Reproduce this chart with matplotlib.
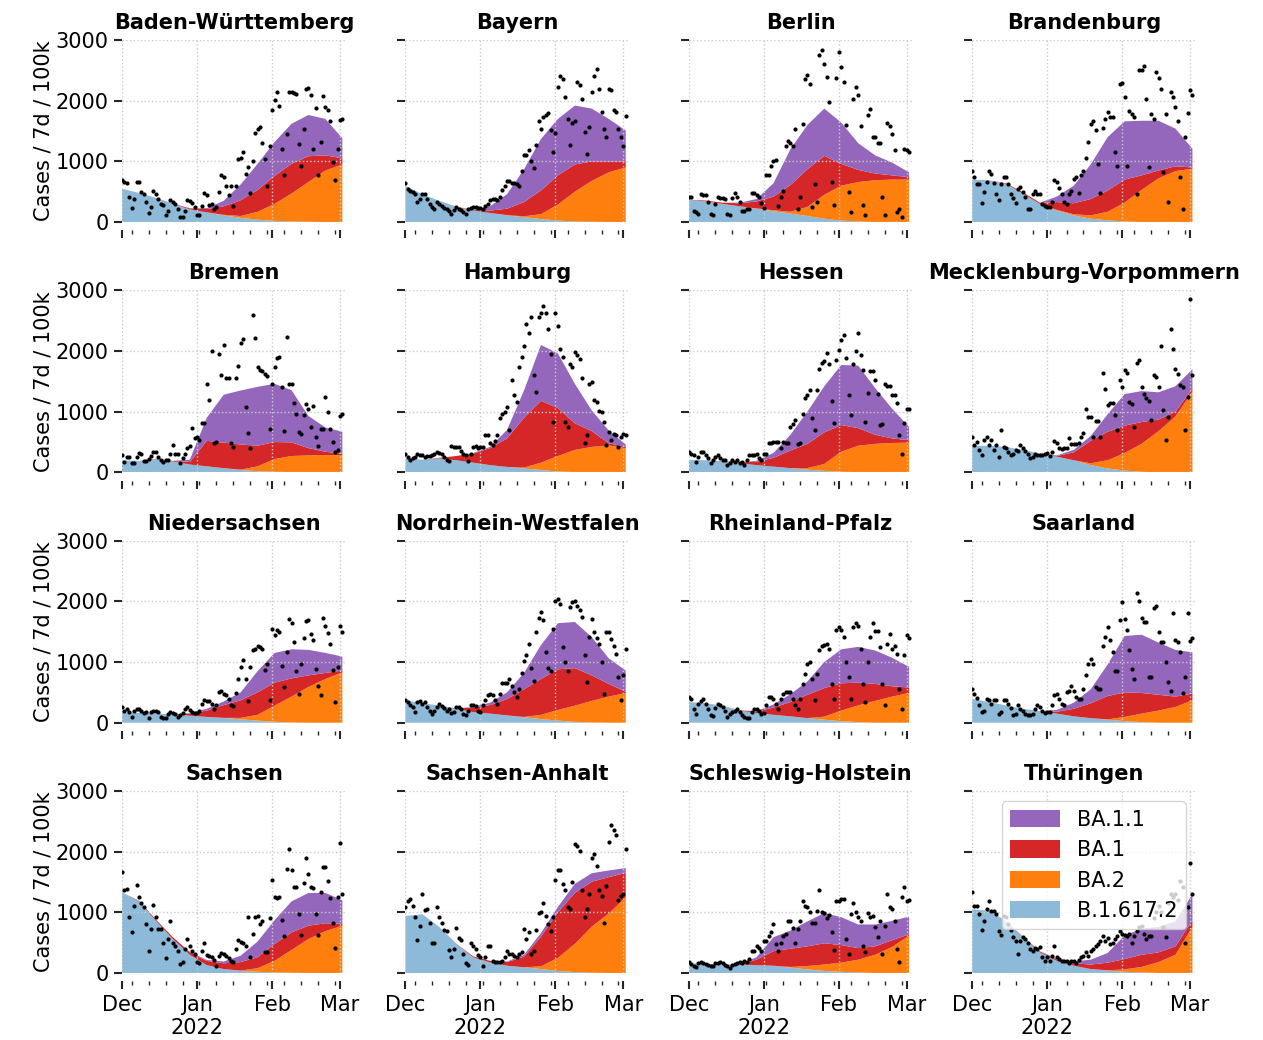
import pandas as pd
import matplotlib
matplotlib.use('Agg')
import matplotlib.pyplot as plt
import matplotlib.dates as mdates

# states in panel order
states = ['Baden-Württemberg', 'Bayern', 'Berlin', 'Brandenburg',
          'Bremen', 'Hamburg', 'Hessen', 'Mecklenburg-Vorpommern',
          'Niedersachsen', 'Nordrhein-Westfalen', 'Rheinland-Pfalz', 'Saarland',
          'Sachsen', 'Sachsen-Anhalt', 'Schleswig-Holstein', 'Thüringen']

# weekly model knots (Dec 1 .. Mar 2) and daily reported cases (Dec 1 .. Mar 2)
weeks = pd.date_range('2021-12-01', periods=14, freq='7D')
days = pd.date_range('2021-12-01', periods=92, freq='D')

variants = ['B.1.617.2', 'BA.2', 'BA.1', 'BA.1.1']
colors = ['#8ebad9', '#ff7f0e', '#d62728', '#9467bd']

month_ticks = pd.to_datetime(['2021-12-01', '2022-01-01', '2022-02-01', '2022-03-01'])
month_labels = ['Dec', 'Jan\n2022', 'Feb', 'Mar']

# cases / 7d / 100k per variant (stacked areas)
delta = {
    'Baden-Württemberg': [550, 480, 400, 300, 210, 160, 110, 70, 40, 20, 10, 5, 0, 0],
    'Bayern': [600, 460, 350, 250, 190, 150, 110, 80, 50, 25, 10, 5, 0, 0],
    'Berlin': [370, 340, 300, 260, 220, 180, 140, 100, 55, 25, 10, 0, 0, 0],
    'Brandenburg': [700, 690, 630, 470, 300, 190, 110, 55, 30, 10, 0, 0, 0, 0],
    'Bremen': [200, 190, 220, 180, 130, 100, 70, 40, 20, 10, 5, 0, 0, 0],
    'Hamburg': [230, 210, 230, 200, 160, 120, 90, 65, 40, 15, 5, 0, 0, 0],
    'Hessen': [210, 200, 180, 150, 120, 95, 70, 45, 25, 10, 5, 0, 0, 0],
    'Mecklenburg-Vorpommern': [440, 440, 420, 370, 310, 260, 200, 120, 65, 30, 10, 0, 0, 0],
    'Niedersachsen': [170, 160, 150, 140, 115, 95, 80, 55, 35, 15, 5, 0, 0, 0],
    'Nordrhein-Westfalen': [370, 320, 285, 230, 175, 150, 120, 90, 60, 35, 15, 5, 0, 0],
    'Rheinland-Pfalz': [340, 320, 280, 200, 160, 130, 105, 75, 50, 25, 10, 0, 0, 0],
    'Saarland': [395, 340, 285, 230, 185, 150, 105, 75, 50, 25, 10, 0, 0, 0],
    'Sachsen': [1330, 1180, 860, 560, 300, 130, 65, 35, 20, 10, 5, 0, 0, 0],
    'Sachsen-Anhalt': [940, 970, 760, 480, 260, 175, 120, 95, 65, 35, 15, 5, 0, 0],
    'Schleswig-Holstein': [160, 150, 140, 140, 130, 120, 90, 60, 35, 20, 10, 0, 0, 0],
    'Thüringen': [1050, 1030, 850, 590, 340, 200, 120, 65, 40, 20, 10, 0, 0, 0],
}
ba2 = {
    'Baden-Württemberg': [0, 0, 0, 0, 0, 0, 10, 30, 130, 280, 460, 655, 850, 950],
    'Bayern': [0, 0, 0, 0, 0, 0, 5, 15, 80, 265, 490, 675, 820, 900],
    'Berlin': [0, 0, 0, 0, 5, 15, 30, 150, 395, 575, 650, 690, 700, 700],
    'Brandenburg': [0, 0, 0, 0, 0, 10, 20, 55, 140, 310, 530, 720, 840, 880],
    'Bremen': [0, 0, 0, 0, 0, 0, 0, 5, 80, 210, 265, 280, 285, 285],
    'Hamburg': [0, 0, 0, 0, 0, 0, 0, 15, 120, 255, 365, 420, 445, 400],
    'Hessen': [0, 0, 0, 0, 0, 0, 0, 25, 115, 330, 435, 470, 485, 490],
    'Mecklenburg-Vorpommern': [0, 0, 0, 0, 0, 0, 0, 30, 135, 290, 460, 680, 920, 1330],
    'Niedersachsen': [0, 0, 0, 0, 0, 0, 0, 25, 95, 265, 425, 590, 720, 830],
    'Nordrhein-Westfalen': [0, 0, 0, 0, 0, 0, 0, 5, 70, 175, 265, 355, 430, 490],
    'Rheinland-Pfalz': [0, 0, 0, 0, 0, 0, 0, 0, 50, 175, 275, 360, 430, 490],
    'Saarland': [0, 0, 0, 0, 0, 0, 0, 0, 5, 70, 140, 200, 260, 370],
    'Sachsen': [0, 0, 0, 0, 0, 0, 0, 5, 60, 190, 375, 560, 690, 780],
    'Sachsen-Anhalt': [0, 0, 0, 0, 0, 0, 0, 0, 45, 215, 465, 760, 980, 1250],
    'Schleswig-Holstein': [0, 0, 0, 0, 0, 0, 10, 55, 105, 150, 210, 300, 430, 615],
    'Thüringen': [0, 0, 0, 0, 0, 0, 0, 0, 5, 40, 90, 180, 300, 760],
}
ba1 = {
    'Baden-Württemberg': [0, 0, 0, 5, 15, 55, 140, 260, 360, 460, 490, 425, 250, 100],
    'Bayern': [0, 0, 0, 5, 10, 40, 105, 235, 390, 480, 450, 320, 180, 100],
    'Berlin': [0, 15, 20, 50, 115, 225, 440, 620, 640, 360, 200, 110, 70, 40],
    'Brandenburg': [0, 0, 10, 20, 20, 130, 180, 270, 350, 380, 240, 130, 80, 20],
    'Bremen': [0, 0, 5, 10, 40, 420, 420, 415, 340, 280, 225, 120, 55, 25],
    'Hamburg': [0, 0, 10, 70, 150, 280, 470, 820, 1020, 790, 440, 260, 35, 20],
    'Hessen': [0, 0, 5, 15, 55, 145, 290, 400, 520, 440, 290, 150, 75, 40],
    'Mecklenburg-Vorpommern': [0, 0, 0, 0, 0, 10, 130, 370, 470, 450, 360, 190, 80, 50],
    'Niedersachsen': [0, 0, 0, 0, 35, 105, 210, 290, 370, 380, 300, 190, 100, 30],
    'Nordrhein-Westfalen': [0, 0, 0, 5, 75, 140, 270, 455, 590, 670, 620, 420, 210, 20],
    'Rheinland-Pfalz': [0, 0, 0, 5, 20, 120, 235, 385, 470, 450, 375, 280, 170, 90],
    'Saarland': [0, 0, 0, 0, 5, 30, 125, 245, 385, 405, 340, 260, 170, 110],
    'Sachsen': [0, 10, 20, 30, 40, 70, 95, 140, 180, 280, 290, 220, 130, 30],
    'Sachsen-Anhalt': [0, 0, 0, 5, 15, 25, 60, 175, 490, 750, 840, 740, 600, 400],
    'Schleswig-Holstein': [0, 0, 0, 5, 90, 240, 300, 325, 350, 290, 190, 140, 110, 25],
    'Thüringen': [0, 0, 5, 10, 15, 25, 40, 75, 125, 170, 200, 160, 140, 110],
}
ba11 = {
    'Baden-Württemberg': [0, 0, 0, 0, 5, 15, 90, 260, 430, 560, 660, 680, 600, 330],
    'Bayern': [0, 0, 0, 0, 0, 70, 240, 540, 850, 930, 970, 870, 700, 510],
    'Berlin': [0, 0, 0, 10, 40, 220, 590, 730, 780, 680, 440, 300, 210, 80],
    'Brandenburg': [0, 0, 0, 0, 0, 90, 290, 570, 880, 960, 900, 820, 620, 310],
    'Bremen': [0, 0, 0, 0, 40, 380, 790, 890, 970, 960, 860, 530, 400, 360],
    'Hamburg': [0, 0, 0, 0, 10, 20, 140, 450, 920, 900, 650, 340, 210, 40],
    'Hessen': [0, 0, 0, 0, 15, 80, 260, 530, 760, 990, 1030, 770, 490, 220],
    'Mecklenburg-Vorpommern': [0, 0, 0, 0, 0, 10, 40, 80, 290, 520, 510, 450, 420, 320],
    'Niedersachsen': [0, 0, 0, 0, 10, 30, 60, 130, 350, 490, 480, 420, 330, 230],
    'Nordrhein-Westfalen': [0, 0, 0, 0, 10, 40, 110, 270, 560, 760, 760, 630, 420, 350],
    'Rheinland-Pfalz': [0, 0, 0, 0, 10, 50, 130, 220, 430, 560, 590, 550, 470, 340],
    'Saarland': [0, 0, 0, 0, 0, 30, 100, 230, 520, 930, 960, 860, 770, 680],
    'Sachsen': [0, 0, 0, 0, 10, 15, 30, 105, 260, 390, 510, 540, 500, 390],
    'Sachsen-Anhalt': [0, 0, 0, 0, 0, 0, 10, 30, 60, 90, 150, 140, 110, 80],
    'Schleswig-Holstein': [0, 0, 0, 0, 40, 230, 300, 410, 500, 460, 390, 360, 320, 290],
    'Thüringen': [0, 0, 0, 0, 5, 10, 30, 80, 160, 390, 430, 420, 410, 430],
}

# daily reported incidence (dots)
cases = {
    'Baden-Württemberg': [
        700, 660, 650, 410, 230, 385, 660, 655, 495, 470, 330, 150, 250, 520,
        470, 385, 300, 275, 120, 190, 360, 330, 290, 220, 80, 80, 190, 370,
        350, 320, 250, 120, 120, 260, 480, 440, 280, 300, 220, 250, 500, 770,
        750, 600, 440, 600, 260, 590, 1040, 1050, 1160, 800, 900, 480, 1000, 1460,
        1540, 1560, 1300, 1040, 590, 1260, 1840, 2010, 2140, 1910, 1210, 770, 1450, 2140,
        2140, 2120, 2110, 1290, 930, 1540, 2200, 2210, 2100, 1210, 1880, 780, 1320, 2080,
        1900, 1850, 1660, 990, 690, 1210, 1690, 1700],
    'Bayern': [
        640, 550, 510, 495, 470, 330, 385, 470, 470, 385, 300, 250, 220, 330,
        300, 270, 240, 220, 190, 140, 200, 250, 220, 200, 170, 140, 220, 240,
        250, 250, 240, 230, 210, 260, 300, 370, 385, 380, 370, 420, 530, 600,
        680, 680, 650, 650, 620, 590, 850, 1100, 1100, 1180, 1000, 890, 1270, 1660,
        1540, 1730, 1760, 1800, 1510, 1150, 1470, 2230, 2410, 2360, 2060, 1700, 1270, 1630,
        1660, 2310, 2260, 2030, 1490, 1130, 1560, 2140, 2410, 2520, 2200, 1810, 1540, 1400,
        2190, 2170, 1840, 1810, 1540, 1400, 1250, 1740],
    'Berlin': [
        410, 410, 190, 170, 140, 455, 450, 440, 330, 140, 110, 300, 410, 400,
        390, 380, 140, 110, 400, 480, 410, 330, 190, 190, 210, 220, 480, 480,
        450, 410, 310, 230, 770, 770, 930, 1010, 1020, 260, 410, 520, 1260, 1340,
        1300, 1260, 1540, 220, 410, 1620, 2360, 2420, 2280, 250, 630, 330, 2750, 2830,
        2610, 2390, 1980, 660, 275, 2370, 2800, 2550, 2310, 1600, 490, 165, 2030, 2220,
        2090, 1590, 275, 110, 1760, 1860, 1400, 1400, 1310, 1300, 410, 110, 1630, 1590,
        1450, 1180, 165, 220, 80, 1210, 1180, 1150],
    'Brandenburg': [
        850, 740, 630, 630, 310, 490, 660, 840, 800, 640, 470, 370, 630, 750,
        750, 630, 470, 400, 310, 550, 570, 500, 410, 220, 220, 470, 510, 470,
        470, 300, 265, 250, 250, 330, 690, 660, 560, 470, 330, 300, 470, 510,
        710, 740, 480, 770, 850, 1060, 1320, 1620, 1670, 1520, 960, 480, 1550, 1700,
        1820, 1730, 1730, 1160, 930, 2280, 2300, 2060, 930, 1830, 1780, 1730, 470, 2500,
        2500, 2580, 2030, 910, 1780, 1700, 2470, 2380, 2200, 820, 1780, 330, 2140, 2060,
        1890, 1660, 740, 210, 1400, 1800, 2170, 2100],
    'Bremen': [
        285, 175, 260, 260, 150, 150, 260, 325, 300, 180, 190, 220, 275, 340,
        340, 250, 200, 175, 200, 210, 300, 450, 310, 300, 160, 230, 300, 395,
        430, 735, 560, 590, 530, 810, 810, 1450, 1200, 2000, 490, 500, 1945, 1610,
        2100, 1560, 1560, 480, 420, 1560, 1750, 2130, 2200, 1080, 650, 395, 2600, 2210,
        1740, 1680, 1670, 1620, 1590, 720, 1460, 1730, 1890, 1900, 1410, 690, 2230, 1460,
        1450, 1150, 970, 670, 640, 940, 1120, 1050, 750, 1090, 590, 430, 720, 720,
        1240, 990, 720, 500, 340, 370, 930, 970],
    'Hamburg': [
        300, 260, 200, 230, 260, 310, 280, 290, 260, 270, 270, 280, 300, 340,
        320, 300, 260, 200, 180, 430, 420, 420, 420, 360, 310, 280, 180, 300,
        420, 430, 400, 420, 420, 615, 615, 480, 450, 520, 615, 890, 970, 1000,
        1080, 700, 1520, 1270, 1160, 1730, 1900, 2090, 2450, 2290, 2560, 1610, 1330, 2560,
        2620, 2750, 2620, 2370, 1950, 830, 2630, 2420, 2030, 1900, 830, 750, 1790, 1740,
        1980, 1930, 1870, 1550, 480, 610, 1460, 1490, 1190, 1160, 1010, 1000, 830, 450,
        670, 530, 640, 610, 420, 590, 640, 620],
    'Hessen': [
        340, 310, 280, 175, 260, 340, 340, 280, 230, 160, 200, 260, 280, 230,
        200, 200, 120, 150, 200, 170, 200, 160, 175, 120, 200, 285, 285, 285,
        310, 240, 200, 310, 310, 480, 490, 495, 495, 505, 400, 495, 490, 480,
        750, 800, 860, 475, 490, 970, 1220, 1270, 1360, 890, 700, 1360, 1710, 1800,
        1840, 1960, 1790, 1180, 810, 1850, 2020, 2180, 2260, 1890, 1280, 950, 1780, 2000,
        2290, 1930, 1690, 830, 1310, 1670, 1670, 1520, 1290, 780, 800, 1450, 1430, 1420,
        1270, 1270, 1140, 610, 310, 810, 1040, 1050],
    'Mecklenburg-Vorpommern': [
        590, 450, 500, 370, 290, 530, 590, 450, 530, 370, 450, 250, 700, 420,
        395, 340, 285, 300, 370, 360, 450, 400, 350, 300, 230, 260, 310, 280,
        280, 290, 310, 320, 270, 330, 520, 480, 395, 390, 400, 395, 560, 460,
        460, 460, 480, 590, 650, 1050, 920, 920, 590, 850, 840, 590, 1630, 1370,
        1110, 1140, 1150, 940, 700, 1530, 1410, 1690, 1630, 1160, 1130, 750, 1810, 1860,
        1400, 1300, 1220, 1180, 870, 1600, 1580, 1410, 2080, 1030, 540, 920, 2370, 2040,
        1700, 1620, 1440, 1400, 700, 1240, 2860, 1600],
    'Niedersachsen': [
        260, 200, 230, 175, 95, 200, 220, 220, 200, 160, 175, 80, 175, 200,
        200, 175, 95, 80, 70, 150, 175, 160, 150, 100, 120, 160, 230, 260,
        210, 175, 160, 160, 200, 310, 370, 355, 355, 310, 230, 285, 500, 520,
        480, 450, 395, 300, 280, 490, 720, 920, 1030, 720, 350, 910, 1190, 1220,
        1270, 1240, 1220, 870, 970, 370, 1550, 1450, 1520, 1490, 940, 590, 1160, 1710,
        1650, 1330, 860, 470, 970, 1400, 1670, 1700, 1460, 1360, 890, 600, 450, 1730,
        1590, 1480, 1300, 870, 340, 920, 1600, 1500],
    'Nordrhein-Westfalen': [
        370, 340, 300, 260, 175, 340, 350, 310, 340, 260, 200, 150, 200, 260,
        310, 270, 250, 200, 230, 160, 175, 260, 260, 220, 150, 120, 200, 285,
        285, 270, 200, 175, 285, 370, 450, 465, 450, 370, 310, 480, 650, 660,
        660, 720, 610, 500, 420, 560, 820, 1010, 1120, 1300, 900, 680, 1490, 1730,
        1820, 1700, 1160, 900, 860, 1550, 2010, 2040, 1950, 1240, 1000, 860, 1900, 1990,
        2010, 1920, 1850, 1740, 1110, 670, 1410, 1710, 1490, 1400, 1300, 1000, 470, 1490,
        1490, 1380, 1270, 1140, 760, 380, 780, 1220],
    'Rheinland-Pfalz': [
        420, 390, 230, 150, 310, 360, 390, 310, 230, 120, 110, 250, 310, 285,
        260, 200, 90, 140, 175, 200, 230, 175, 120, 90, 80, 70, 175, 230,
        230, 200, 150, 160, 300, 420, 420, 390, 310, 230, 390, 480, 500, 510,
        500, 390, 300, 230, 390, 640, 800, 970, 1000, 720, 370, 800, 1190, 1270,
        1280, 1300, 1220, 640, 390, 1530, 1570, 1530, 1420, 1000, 750, 390, 1570, 1640,
        1600, 1220, 640, 340, 1000, 1410, 1640, 1510, 1510, 1250, 640, 285, 1300, 1470,
        1220, 1260, 1140, 560, 230, 1120, 1450, 1400],
    'Saarland': [
        560, 480, 400, 300, 175, 200, 390, 370, 310, 370, 370, 150, 175, 370,
        370, 310, 250, 120, 150, 285, 230, 200, 150, 120, 120, 150, 230, 285,
        260, 200, 160, 175, 175, 300, 450, 470, 390, 310, 285, 500, 530, 610,
        530, 420, 390, 390, 560, 780, 970, 1050, 970, 590, 560, 560, 1270, 1410,
        1570, 1360, 1160, 860, 860, 1690, 1990, 1710, 1530, 1200, 890, 720, 2140, 2000,
        1730, 1660, 1660, 760, 760, 1890, 1920, 1490, 1330, 1330, 1000, 670, 530, 1810,
        1370, 1330, 1160, 490, 750, 1800, 1350, 1400],
    'Sachsen': [
        1670, 1360, 1380, 920, 670, 1100, 1450, 1250, 1160, 1080, 810, 370, 720, 1120,
        920, 720, 720, 500, 250, 560, 860, 500, 450, 360, 150, 175, 395, 560,
        440, 370, 310, 175, 160, 370, 500, 300, 285, 260, 220, 120, 285, 330,
        310, 280, 250, 200, 175, 395, 550, 510, 500, 450, 920, 260, 640, 920,
        940, 810, 860, 340, 340, 910, 1530, 1250, 1230, 1250, 870, 610, 1710, 2040,
        1690, 1420, 1420, 980, 630, 1490, 1890, 1640, 1420, 1400, 980, 630, 1330, 1740,
        1750, 1520, 1230, 820, 420, 1250, 2150, 1300],
    'Sachsen-Anhalt': [
        1080, 1180, 1220, 1100, 920, 540, 770, 1300, 1040, 1060, 820, 500, 500, 1080,
        920, 820, 710, 700, 380, 270, 400, 740, 580, 540, 320, 160, 140, 490,
        440, 390, 300, 260, 120, 260, 450, 440, 200, 175, 175, 175, 200, 260,
        370, 310, 310, 285, 260, 310, 340, 720, 560, 670, 310, 360, 710, 990,
        1000, 1160, 940, 800, 700, 930, 1530, 1690, 1690, 1460, 1360, 1080, 1060, 1500,
        2120, 2100, 2010, 1360, 920, 1050, 1310, 1890, 1960, 1770, 1360, 1270, 830, 1430,
        2160, 2440, 2350, 2280, 1200, 1270, 1300, 2040],
    'Schleswig-Holstein': [
        175, 150, 120, 100, 160, 175, 160, 150, 140, 110, 120, 160, 160, 175,
        160, 140, 120, 90, 130, 150, 160, 175, 165, 200, 175, 230, 360, 370,
        450, 420, 370, 520, 530, 615, 670, 810, 480, 370, 500, 615, 640, 860,
        860, 750, 500, 720, 860, 1190, 1110, 1090, 1000, 820, 820, 1030, 1360, 1000,
        990, 910, 960, 670, 380, 1190, 1180, 1220, 1220, 560, 320, 970, 1150, 1000,
        930, 860, 450, 340, 990, 920, 940, 760, 590, 860, 320, 780, 1310, 1090,
        1050, 860, 395, 175, 1250, 1410, 1190, 1200],
    'Thüringen': [
        1340, 1110, 1100, 980, 710, 850, 1050, 1180, 1030, 1020, 970, 700, 630, 940,
        930, 810, 710, 600, 530, 320, 520, 590, 560, 490, 400, 360, 420, 400,
        430, 260, 200, 260, 200, 280, 440, 260, 230, 200, 200, 190, 170, 200,
        200, 170, 210, 260, 285, 340, 285, 370, 395, 450, 480, 530, 615, 530,
        580, 480, 500, 560, 615, 700, 650, 620, 610, 640, 500, 615, 700, 760,
        780, 650, 560, 610, 615, 900, 1000, 1100, 1000, 760, 600, 1150, 1300, 1250,
        1300, 1200, 1520, 1410, 500, 1080, 1820, 1300],
}

plt.rcParams['font.family'] = 'DejaVu Sans'
plt.rcParams['font.size'] = 15

fig, axs = plt.subplots(4, 4, figsize=(12.63, 10.4), dpi=100, sharex=True, sharey=True)
fig.subplots_adjust(left=0.0966, right=0.947, top=0.9615, bottom=0.0644,
                    wspace=0.265, hspace=0.375)

for ax, state in zip(axs.flat, states):
    ax.stackplot(weeks, delta[state], ba2[state], ba1[state], ba11[state],
                 colors=colors, labels=variants, linewidth=0)
    ax.scatter(days[:len(cases[state])], cases[state], s=9, color='black',
               linewidths=0, zorder=3)
    ax.set_title(state, fontweight='bold', fontsize=15, pad=8)

    ax.set_ylim(0, 3000)
    ax.set_xlim(days[0], days[0] + pd.Timedelta(days=92.5))
    ax.set_yticks([0, 1000, 2000, 3000])
    ax.set_xticks(month_ticks, labels=month_labels)
    ax.xaxis.set_minor_locator(mdates.WeekdayLocator(byweekday=mdates.SU))

    # dotted grid drawn over the areas
    ax.grid(True, which='major', color='0.8', linestyle=':', linewidth=1)
    ax.set_axisbelow(False)

    for spine in ax.spines.values():
        spine.set_visible(False)
    ax.spines['bottom'].set_position(('outward', 6))
    ax.tick_params(which='major', length=6, width=1.5, color='0.15')
    ax.tick_params(which='minor', length=3, width=1, color='0.15')

for ax in axs[:, 0]:
    ax.set_ylabel('Cases / 7d / 100k', fontsize=15, labelpad=2)

# legend in the last panel, top entry first
handles, labels = axs[3, 3].get_legend_handles_labels()
axs[3, 3].legend(handles[::-1], labels[::-1], loc='upper right', fontsize=15,
                 framealpha=0.8, handlelength=2.4, handleheight=0.9)

fig.savefig('out.png', dpi=100)
